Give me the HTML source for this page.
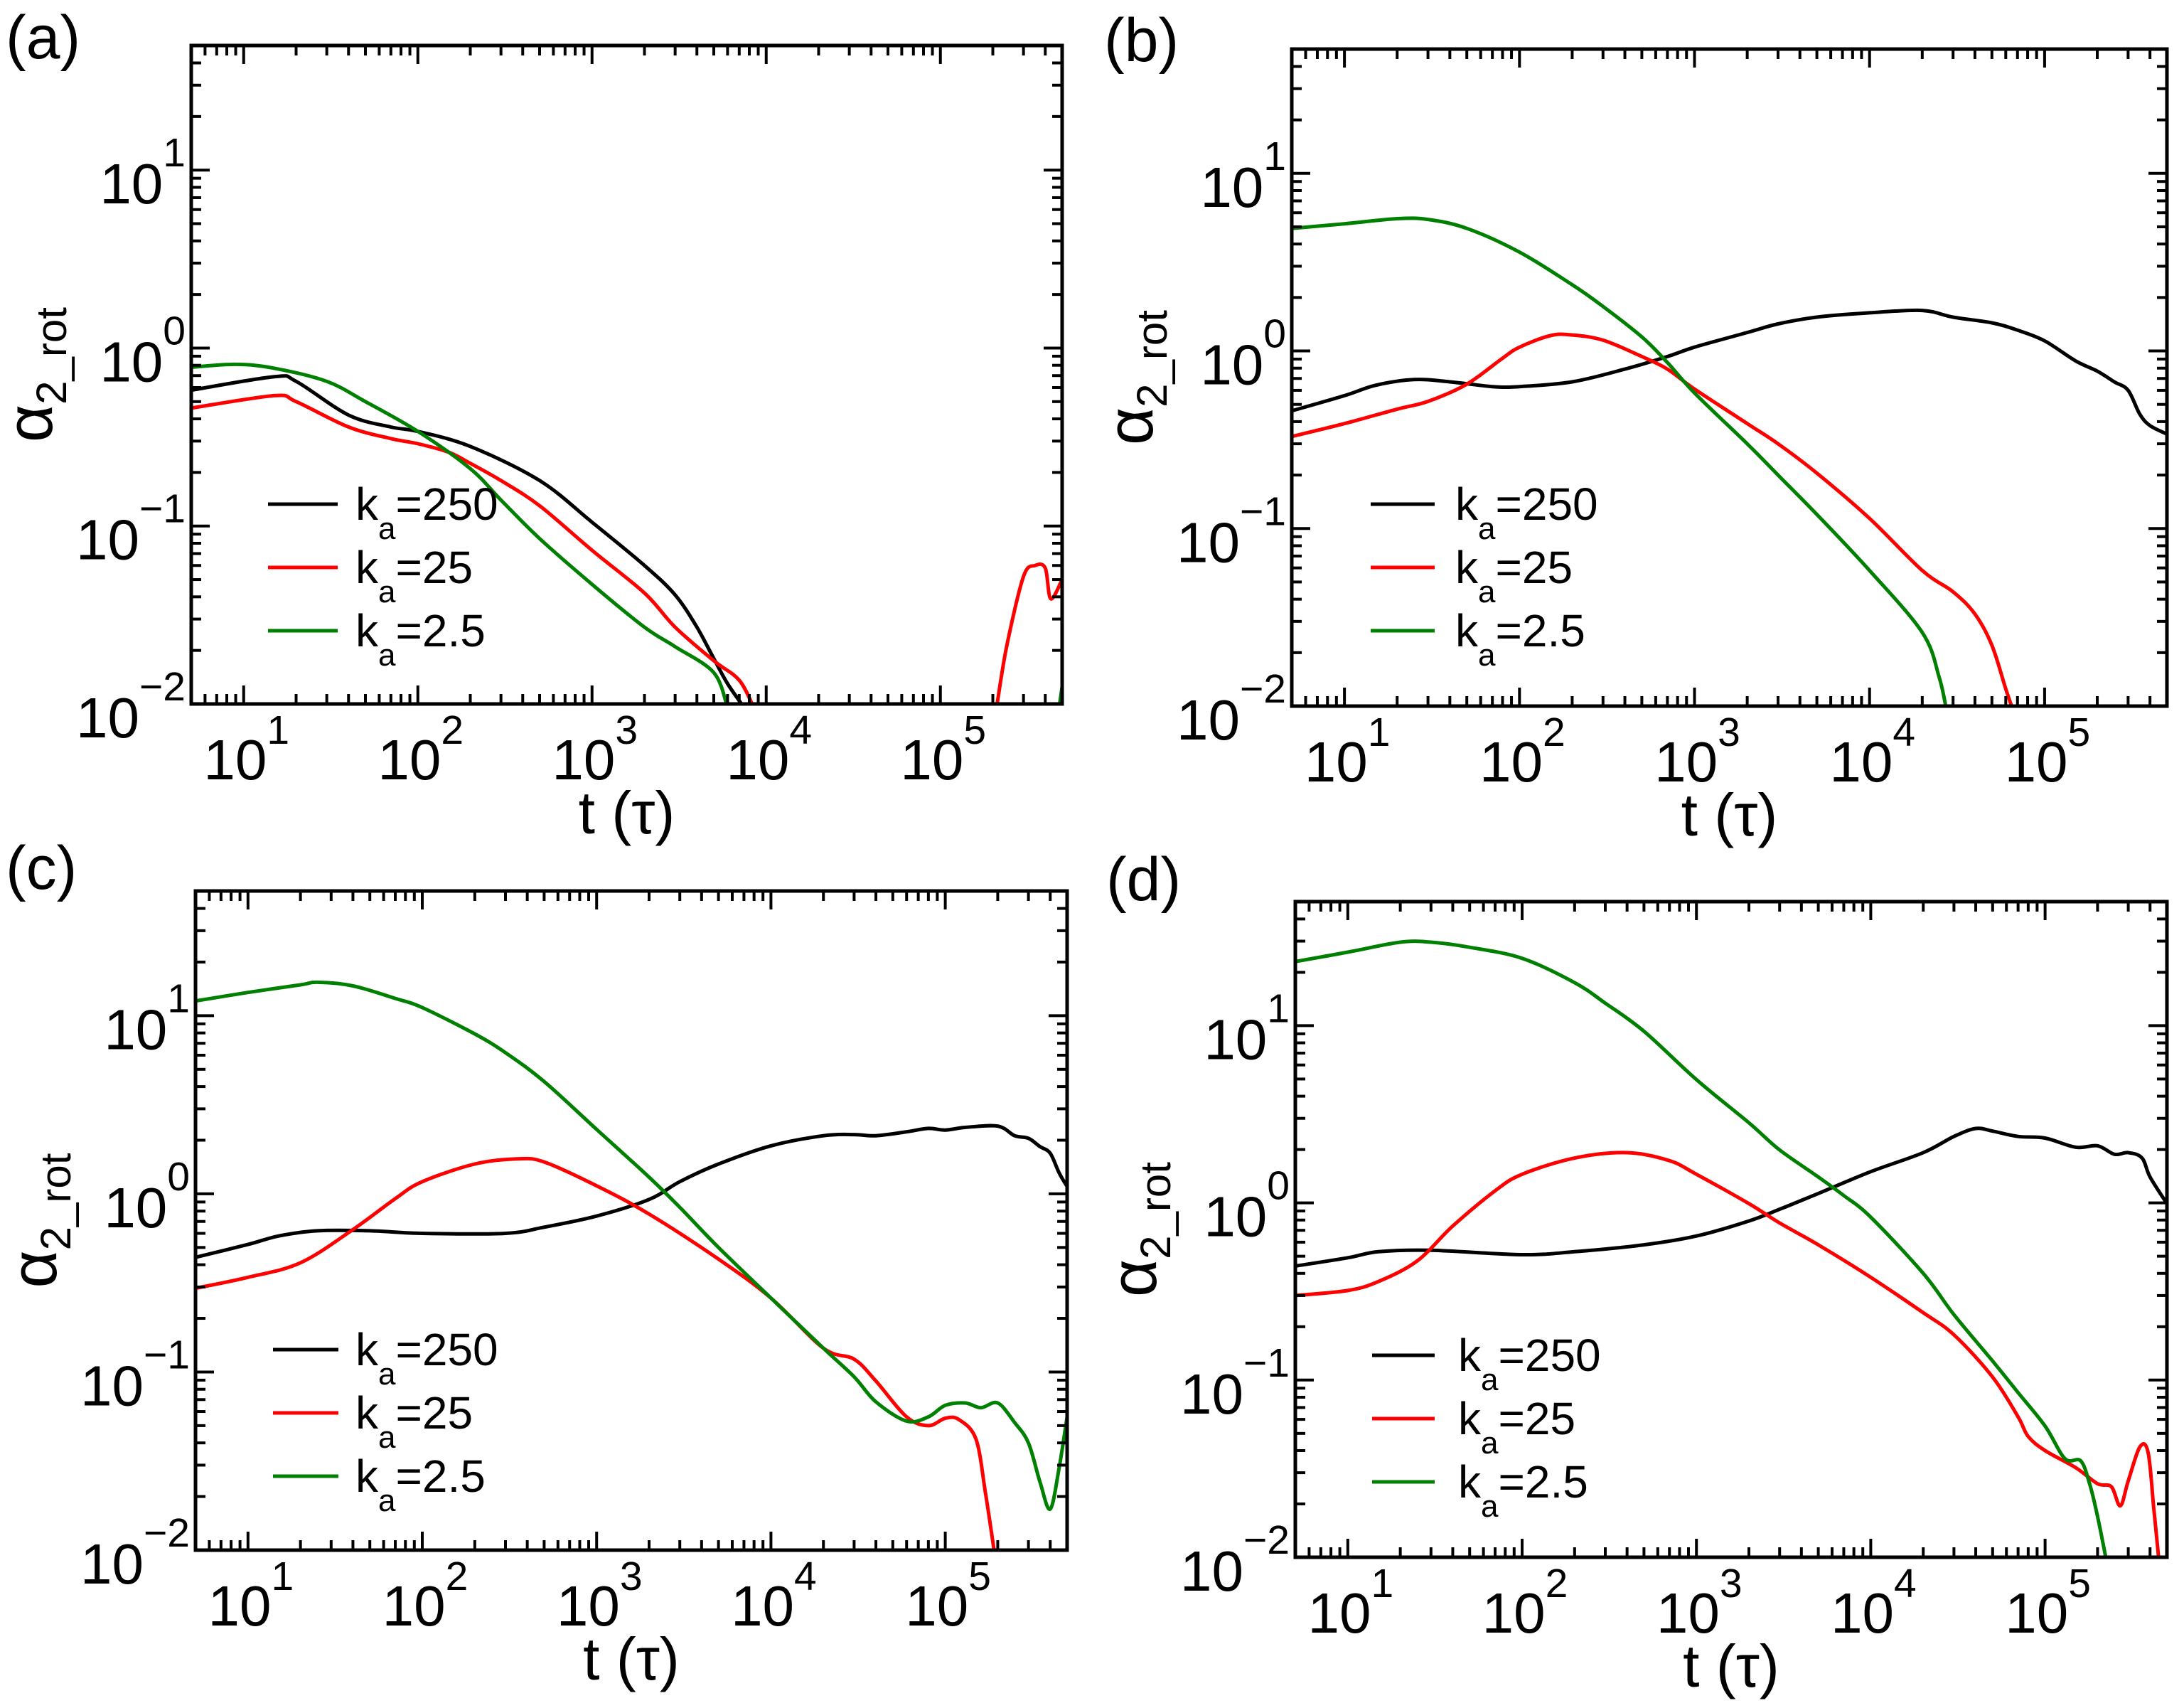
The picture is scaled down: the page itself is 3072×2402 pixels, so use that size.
<!DOCTYPE html>
<html><head><meta charset="utf-8"><style>
html,body{margin:0;padding:0;background:#fff;}
svg{display:block;font-family:"Liberation Sans",Arial,sans-serif;}
</style></head><body>
<svg id="fig" width="3072" height="2402" viewBox="0 0 3072 2402" xmlns="http://www.w3.org/2000/svg"></svg>
<script>
// ---- data (t in tau, alpha values) ----
const aBlackT=[5,15,20,40,70,100,200,500,1000,2000,3000,4000,5000,6000,7500];
const aBlackY=[0.58,0.69,0.65,0.42,0.36,0.34,0.28,0.18,0.105,0.06,0.041,0.027,0.018,0.013,0.0095];
const aRedT=[5,15,20,40,70,100,150,200,300,500,1000,2000,3000,5000,7000,8500];
const aRedY=[0.46,0.54,0.5,0.36,0.31,0.29,0.26,0.225,0.18,0.13,0.073,0.042,0.027,0.0175,0.0136,0.0095];
const aRed2T=[2.1e5,2.4e5,3e5,3.5e5,4e5,4.3e5,5e5];
const aRed2Y=[0.0095,0.021,0.052,0.06,0.058,0.039,0.05];
const aGreenT=[5,9,15,30,50,100,200,300,500,1000,2000,3000,5000,6000];
const aGreenY=[0.78,0.81,0.77,0.65,0.5,0.34,0.21,0.14,0.085,0.047,0.027,0.021,0.015,0.0095];
const aGreen2T=[4.8e5,5e5];
const aGreen2Y=[0.0095,0.0125];

const bBlackT=[5,10,15,25,40,70,100,200,400,700,1000,2000,3000,5000,1e4,2e4,3e4,5e4,7e4,1e5,1.5e5,2e5,2.5e5,3e5,3.5e5,4e5,5e5];
const bBlackY=[0.46,0.56,0.64,0.69,0.67,0.63,0.63,0.67,0.79,0.93,1.05,1.27,1.42,1.55,1.64,1.69,1.55,1.44,1.31,1.14,0.88,0.77,0.67,0.6,0.44,0.38,0.34];
const bRedT=[5,10,20,30,50,80,100,150,200,300,500,700,1000,2000,3000,5000,1e4,2e4,3e4,4e4,5e4,6e4,6.6e4];
const bRedY=[0.33,0.39,0.47,0.52,0.65,0.91,1.05,1.22,1.23,1.15,0.93,0.79,0.61,0.39,0.3,0.205,0.114,0.058,0.044,0.033,0.022,0.0125,0.0095];
const bGreenT=[5,10,20,30,50,100,200,300,500,700,1000,2000,3000,5000,1e4,2e4,2.5e4,2.75e4];
const bGreenY=[4.9,5.2,5.56,5.5,4.9,3.6,2.36,1.78,1.2,0.86,0.58,0.3,0.2,0.12,0.058,0.026,0.0145,0.0095];

const cBlackT=[5,10,15,25,50,100,300,500,1000,2000,3000,5000,1e4,2e4,3e4,4e4,6e4,8e4,1e5,1.3e5,2e5,2.5e5,3e5,3.5e5,4e5,4.5e5,5e5];
const cBlackY=[0.44,0.52,0.58,0.62,0.62,0.6,0.6,0.65,0.75,0.93,1.17,1.47,1.86,2.12,2.15,2.12,2.23,2.33,2.28,2.36,2.4,2.12,2.05,1.84,1.69,1.31,1.1];
const cRedT=[5,10,20,40,70,100,200,350,500,1000,2000,5000,1e4,2e4,3e4,4e4,6e4,8e4,1e5,1.2e5,1.5e5,1.7e5,1.92e5];
const cRedY=[0.295,0.34,0.41,0.63,0.94,1.17,1.47,1.57,1.51,1.11,0.77,0.43,0.26,0.136,0.118,0.089,0.056,0.05,0.055,0.054,0.042,0.021,0.0095];
const cGreenT=[5,10,20,25,40,70,100,200,300,500,1000,2000,3000,5000,1e4,2e4,3e4,4e4,6e4,8e4,1e5,1.3e5,1.6e5,2e5,2.5e5,3e5,3.5e5,4e5,4.5e5,5e5];
const cGreenY=[12.1,13.5,14.9,15.4,14.7,12.5,11.1,7.9,6.2,4.27,2.3,1.24,0.84,0.5,0.26,0.136,0.094,0.068,0.053,0.056,0.065,0.067,0.063,0.067,0.052,0.04,0.024,0.017,0.029,0.056];

const dBlackT=[5,10,15,30,100,200,500,1000,2000,3000,5000,1e4,2e4,3e4,4e4,5e4,7e4,1e5,1.5e5,2e5,2.5e5,3e5,3.6e5,4e5,5e5];
const dBlackY=[0.44,0.49,0.53,0.54,0.51,0.53,0.58,0.65,0.79,0.92,1.13,1.5,1.92,2.37,2.63,2.54,2.37,2.32,2.06,2.1,1.88,1.92,1.79,1.4,0.99];
const dRedT=[5,10,15,25,40,70,100,200,400,700,1000,2000,3000,5000,1e4,2e4,3e4,5e4,7e4,8e4,1e5,1.5e5,2e5,2.4e5,2.7e5,3e5,3.5e5,3.9e5,4.2e5,4.5e5];
const dRedY=[0.3,0.32,0.36,0.47,0.74,1.17,1.45,1.79,1.92,1.73,1.45,0.99,0.77,0.58,0.38,0.24,0.18,0.104,0.062,0.048,0.04,0.032,0.026,0.025,0.0195,0.027,0.042,0.039,0.019,0.0095];
const dGreenT=[5,10,20,30,50,100,200,300,500,1000,2000,3000,5000,7000,1e4,2e4,3e4,5e4,7e4,1e5,1.3e5,1.6e5,1.8e5,2e5,2.25e5];
const dGreenY=[23,26,29.6,29.6,27.7,24,17.5,13.4,9.3,4.96,2.83,1.99,1.4,1.1,0.83,0.4,0.234,0.128,0.085,0.055,0.036,0.035,0.026,0.017,0.0095];

const xTickExps=[1,2,3,4,5];
const yTickExps=[-2,-1,0,1];
const legendLabels=["250","25","2.5"];
const panelLetters=["(a)","(b)","(c)","(d)"];

const NS="http://www.w3.org/2000/svg";
const svg=document.getElementById('fig');
function mk(tag,attrs,parent){const e=document.createElementNS(NS,tag);for(const k in attrs)e.setAttribute(k,attrs[k]);(parent||svg).appendChild(e);return e;}
function smoothPath(pts){
 if(pts.length<3)return pts.map((p,i)=>(i?'L':'M')+p[0].toFixed(1)+','+p[1].toFixed(1)).join('');
 let d='M'+pts[0][0].toFixed(1)+','+pts[0][1].toFixed(1);
 for(let i=0;i<pts.length-1;i++){
  const p0=pts[Math.max(0,i-1)],p1=pts[i],p2=pts[i+1],p3=pts[Math.min(pts.length-1,i+2)];
  const c1x=p1[0]+(p2[0]-p0[0])/6,c1y=p1[1]+(p2[1]-p0[1])/6;
  const c2x=p2[0]-(p3[0]-p1[0])/6,c2y=p2[1]-(p3[1]-p1[1])/6;
  d+='C'+c1x.toFixed(1)+','+c1y.toFixed(1)+' '+c2x.toFixed(1)+','+c2y.toFixed(1)+' '+p2[0].toFixed(1)+','+p2[1].toFixed(1);
 }
 return d;
}

const panels=[
 {id:'a',x0:269,y0:64,x1:1494,y1:990,lab:[8,82],
  series:[[aBlackT,aBlackY,'#000'],[aRedT,aRedY,'#ff0000'],[aRed2T,aRed2Y,'#ff0000'],[aGreenT,aGreenY,'#008000'],[aGreen2T,aGreen2Y,'#008000']],leg:[377,475,500,709]},
 {id:'b',x0:1817,y0:69,x1:3048,y1:993,lab:[1553,86],
  series:[[bBlackT,bBlackY,'#000'],[bRedT,bRedY,'#ff0000'],[bGreenT,bGreenY,'#008000']],leg:[1928,2018,2047,709]},
 {id:'c',x0:275,y0:1253,x1:1501,y1:2180,lab:[8,1250],
  series:[[cBlackT,cBlackY,'#000'],[cRedT,cRedY,'#ff0000'],[cGreenT,cGreenY,'#008000']],leg:[384,476,500,1898]},
 {id:'d',x0:1822,y0:1268,x1:3048,y1:2190,lab:[1556,1266],
  series:[[dBlackT,dBlackY,'#000'],[dRedT,dRedY,'#ff0000'],[dGreenT,dGreenY,'#008000']],leg:[1930,2018,2051,1906]}
];
const XMIN=Math.log10(5),XMAX=Math.log10(5e5),YMIN=-2,YMAX=1.7;

panels.forEach((p,pi)=>{
 const g=mk('g',{});
 
 
 const W=p.x1-p.x0,H=p.y1-p.y0;
 const sx=t=>p.x0+(Math.log10(t)-XMIN)/(XMAX-XMIN)*W;
 const sy=v=>p.y1-(Math.log10(v)-YMIN)/(YMAX-YMIN)*H;
 const cp=mk('clipPath',{id:'clip'+p.id},g);
 mk('rect',{x:p.x0,y:p.y0,width:W,height:H},cp);
 p.series.forEach((s)=>{
  const pts=s[0].map((t,i)=>[sx(t),sy(s[1][i])]);
  const path=mk('path',{d:smoothPath(pts),fill:'none',stroke:s[2],'stroke-width':5,'stroke-linejoin':'round','clip-path':'url(#clip'+p.id+')'},g);
  
  
 });
 const tk=mk('g',{stroke:'#000','stroke-width':4},g);
 
 
 for(let e=0;e<=5;e++){for(let m=1;m<=9;m++){const t=m*Math.pow(10,e);const lt=Math.log10(t);if(lt<XMIN-1e-9||lt>XMAX+1e-9)continue;const x=sx(t);const L=m===1?26:14;
  mk('line',{x1:x,y1:p.y1,x2:x,y2:p.y1-L},tk);mk('line',{x1:x,y1:p.y0,x2:x,y2:p.y0+L},tk);}}
 for(let e=-2;e<=1;e++){for(let m=1;m<=9;m++){const v=m*Math.pow(10,e);const lv=Math.log10(v);if(lv<YMIN-1e-9||lv>YMAX+1e-9)continue;const y=sy(v);const L=m===1?26:14;
  mk('line',{x1:p.x0,y1:y,x2:p.x0+L,y2:y},tk);mk('line',{x1:p.x1,y1:y,x2:p.x1-L,y2:y},tk);}}
 const fr=mk('rect',{x:p.x0,y:p.y0,width:W,height:H,fill:'none',stroke:'#000','stroke-width':5},g);
 
 
 xTickExps.forEach(e=>{
  const t=mk('text',{x:sx(Math.pow(10,e))+4,y:p.y1+106,'font-size':80,'text-anchor':'middle'},g);
  
  
  t.appendChild(document.createTextNode('10'));
  const sp=mk('tspan',{'font-size':57,dy:-50},t);sp.textContent=String(e);
 });
 yTickExps.forEach(e=>{
  const t=mk('text',{x:p.x0-8,y:sy(Math.pow(10,e))+47,'font-size':80,'text-anchor':'end'},g);
  
  
  t.appendChild(document.createTextNode('10'));
  const sp=mk('tspan',{'font-size':57,dy:-52},t);sp.textContent=(e<0?'\u2212':'')+Math.abs(e);
 });
 const xt=mk('text',{x:(p.x0+p.x1)/2,y:p.y1+182,'font-size':84,'text-anchor':'middle'},g);
 
 
 xt.textContent='t (\u03c4)';
 const cy=(p.y0+p.y1)/2+95;
 const yt=mk('text',{x:0,y:0,'font-size':92,transform:'translate('+(p.x0-196)+','+cy+') rotate(-90)'},g);
 
 
 yt.appendChild(document.createTextNode('\u03b1'));
 const ys=mk('tspan',{'font-size':60,dy:20},yt);ys.textContent='2_rot';
 const lg=mk('g',{},g);
 
 
 const cols=['#000','#ff0000','#008000'];
 legendLabels.forEach((lab,i)=>{
  const y=p.leg[3]+i*89;
  const ln=mk('line',{x1:p.leg[0],y1:y,x2:p.leg[1],y2:y,stroke:cols[i],'stroke-width':5},lg);
  
  
  const tx=mk('text',{x:p.leg[2],y:y+22,'font-size':64},lg);
  
  
  tx.appendChild(document.createTextNode('k'));
  const s1=mk('tspan',{'font-size':44,dy:27},tx);s1.textContent='a';
  const s2=mk('tspan',{dy:-27},tx);s2.textContent='='+lab;
 });
 const pl=mk('text',{x:p.lab[0],y:p.lab[1],'font-size':86},g);
 
 
 pl.textContent=panelLetters[pi];
});
</script>
</body></html>
